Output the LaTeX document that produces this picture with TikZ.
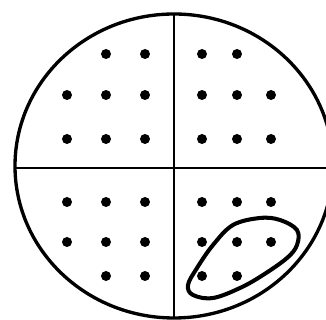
\documentclass[tikz,border=0pt]{standalone}
\begin{document}
\begin{tikzpicture}[x=.02cm,y=-.02cm,line width=1pt,
  dot/.style={fill=black}]
  \path[use as bounding box] (0,0) rectangle (326,320);
  \coordinate (O) at (174,166);
  \begin{scope}
    \clip (O) ellipse [x radius=159,y radius=152];
    \draw (174,0)--(174,320) (0,168)--(326,168);
  \end{scope}
  \draw[line width=1.9pt] (O) ellipse [x radius=159,y radius=152];
  % dots, row by row
  \foreach \x in {106,145,202,237} \fill[dot] (\x,54) circle (.1cm);
  \foreach \x in {67,106,145,202,237,271} {
    \fill[dot] (\x,95) circle (.1cm);
    \fill[dot] (\x,139) circle (.1cm);
    \fill[dot] (\x,202) circle (.1cm);
    \fill[dot] (\x,242) circle (.1cm);
  }
  \foreach \x in {106,145,202,237} \fill[dot] (\x,276) circle (.1cm);
  % loop
  \draw[line width=2.3pt] plot[smooth cycle,tension=.6] coordinates
    {(260,218) (280,220) (297,230) (297,245) (287,258) (263,275) (240,288)
     (213,298) (193,295) (188,285) (197,268) (213,245) (233,225)};
\end{tikzpicture}
\end{document}
